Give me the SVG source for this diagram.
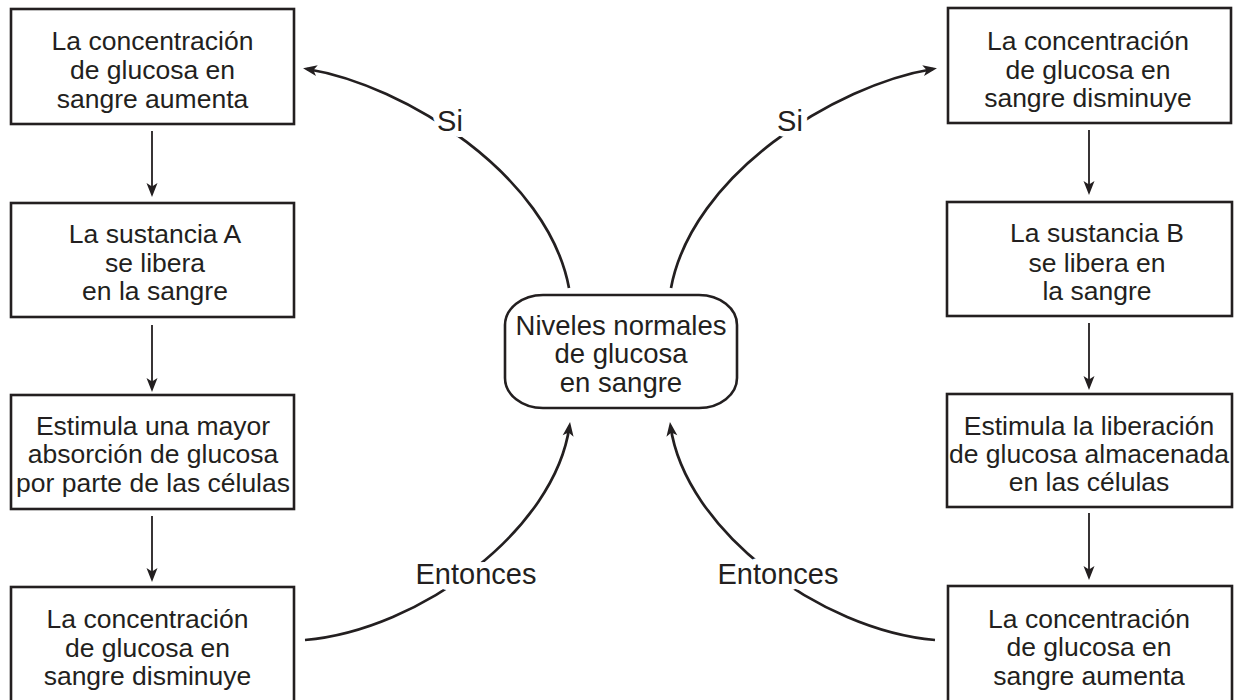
<svg xmlns="http://www.w3.org/2000/svg" width="1235" height="700" viewBox="0 0 1235 700">
  <style>
    .box { fill: #ffffff; stroke: #231f20; stroke-width: 2.6; }
    .txt { font-family: "Liberation Sans", Arial, Helvetica, sans-serif; font-size: 26.5px; fill: #231f20; text-anchor: middle; }
    .ctr { font-size: 27.5px; }
    .lbl { font-family: "Liberation Sans", Arial, Helvetica, sans-serif; font-size: 29px; fill: #231f20; text-anchor: middle;
           stroke: #ffffff; stroke-width: 12; stroke-linejoin: round; paint-order: stroke; }
    .step { fill: none; stroke: #231f20; stroke-width: 1.8; }
    .curve { fill: none; stroke: #231f20; stroke-width: 2.7; }
  </style>
  <defs>
    <marker id="head" markerUnits="userSpaceOnUse" viewBox="-12 -6 17 12" refX="0" refY="0"
            markerWidth="17" markerHeight="12" orient="auto">
      <path d="M4,0 L-10,-5.5 L-6.5,0 L-10,5.5 Z" fill="#231f20"/>
    </marker>
  </defs>

  <rect width="1235" height="700" fill="#ffffff"/>

  <!-- connectors -->
  <g id="connectors">
    <!-- left column -->
    <path class="step" d="M152,131 V193" marker-end="url(#head)"/>
    <path class="step" d="M152,325 V388" marker-end="url(#head)"/>
    <path class="step" d="M152,516 V578" marker-end="url(#head)"/>
    <!-- right column -->
    <path class="step" d="M1089,130 V191" marker-end="url(#head)"/>
    <path class="step" d="M1089,323 V386" marker-end="url(#head)"/>
    <path class="step" d="M1089,513 V576" marker-end="url(#head)"/>
    <!-- centre loops -->
    <path class="curve" d="M569,288 C548,175 405,85 307,69" marker-end="url(#head)"/>
    <path class="curve" d="M671,288 C692,175 835,85 933,69" marker-end="url(#head)"/>
    <path class="curve" d="M305,640 C420,630 555,530 569.5,426" marker-end="url(#head)"/>
    <path class="curve" d="M935,640 C820,630 685,530 670.5,426" marker-end="url(#head)"/>
    <!-- connector labels -->
    <text class="lbl" x="450" y="131">Si</text>
    <text class="lbl" x="790" y="131">Si</text>
    <text class="lbl" x="476" y="584">Entonces</text>
    <text class="lbl" x="778" y="584">Entonces</text>
  </g>

  <!-- left column nodes -->
  <g id="l1">
    <rect class="box" x="11" y="9" width="283" height="115"/>
    <text class="txt" x="152.5" y="50">La concentración</text>
    <text class="txt" x="152.5" y="79">de glucosa en</text>
    <text class="txt" x="152.5" y="108">sangre aumenta</text>
  </g>
  <g id="l2">
    <rect class="box" x="11" y="203" width="283" height="114"/>
    <text class="txt" x="155" y="243">La sustancia A</text>
    <text class="txt" x="155" y="272">se libera</text>
    <text class="txt" x="155" y="300">en la sangre</text>
  </g>
  <g id="l3">
    <rect class="box" x="11" y="395" width="283" height="114"/>
    <text class="txt" x="153" y="435">Estimula una mayor</text>
    <text class="txt" x="153" y="463">absorción de glucosa</text>
    <text class="txt" x="153" y="492">por parte de las células</text>
  </g>
  <g id="l4">
    <rect class="box" x="11" y="587" width="283" height="116"/>
    <text class="txt" x="147.5" y="628">La concentración</text>
    <text class="txt" x="147.5" y="657">de glucosa en</text>
    <text class="txt" x="147.5" y="685">sangre disminuye</text>
  </g>

  <!-- centre node -->
  <g id="centre">
    <rect class="box" x="505" y="295" width="232" height="113" rx="38" ry="30"/>
    <text class="txt ctr" x="621" y="335">Niveles normales</text>
    <text class="txt ctr" x="621" y="363">de glucosa</text>
    <text class="txt ctr" x="621" y="392">en sangre</text>
  </g>

  <!-- right column nodes -->
  <g id="r1">
    <rect class="box" x="948" y="8" width="283" height="115"/>
    <text class="txt" x="1088" y="50">La concentración</text>
    <text class="txt" x="1088" y="79">de glucosa en</text>
    <text class="txt" x="1088" y="107">sangre disminuye</text>
  </g>
  <g id="r2">
    <rect class="box" x="947" y="202" width="285" height="114"/>
    <text class="txt" x="1097" y="242">La sustancia B</text>
    <text class="txt" x="1097" y="272">se libera en</text>
    <text class="txt" x="1097" y="300">la sangre</text>
  </g>
  <g id="r3">
    <rect class="box" x="947" y="394" width="285" height="113"/>
    <text class="txt" x="1089" y="435">Estimula la liberación</text>
    <text class="txt" x="1089" y="463">de glucosa almacenada</text>
    <text class="txt" x="1089" y="491">en las células</text>
  </g>
  <g id="r4">
    <rect class="box" x="948" y="586" width="284" height="117"/>
    <text class="txt" x="1089" y="628">La concentración</text>
    <text class="txt" x="1089" y="656">de glucosa en</text>
    <text class="txt" x="1089" y="685">sangre aumenta</text>
  </g>
</svg>
